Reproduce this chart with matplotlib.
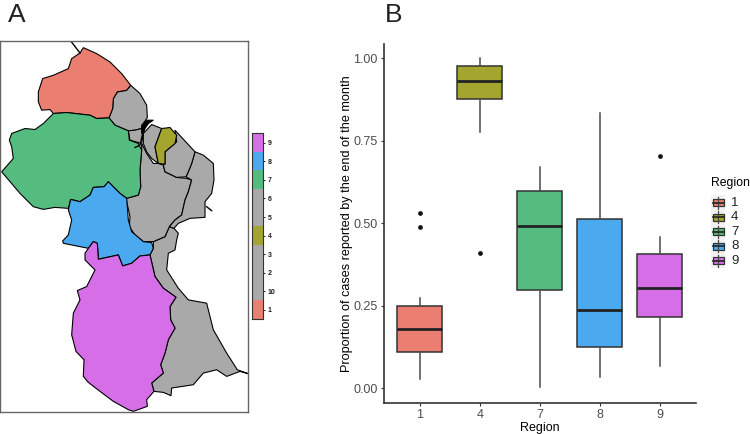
import matplotlib
matplotlib.use('Agg')
import matplotlib.pyplot as plt
from matplotlib.colors import ListedColormap
from matplotlib.patches import Polygon, Rectangle

plt.rcParams['font.family'] = ['Liberation Sans', 'DejaVu Sans']

W, H = 750, 434

# boxplot values
regiones = ['1', '4', '7', '8', '9']
whisker_lo = [0.027, 0.775, 0.005, 0.035, 0.068]
q1 = [0.109, 0.876, 0.298, 0.124, 0.215]
mediana = [0.179, 0.932, 0.493, 0.237, 0.304]
q3 = [0.248, 0.975, 0.598, 0.512, 0.406]
whisker_hi = [0.275, 1.0, 0.671, 0.835, 0.457]
outliers = [[0.49, 0.53], [0.411], [], [], [0.704]]
colores = ['#EA7E70', '#A3A52F', '#55BC80', '#4BA9EF', '#D66EE8']
GRIS = '#A9A9A9'

# colour bar of panel A, bottom to top
barra_labels = ['1', '10', '2', '3', '4', '5', '6', '7', '8', '9']
barra_colores = ['#EA7E70', GRIS, GRIS, GRIS, '#A3A52F', GRIS, GRIS, '#55BC80', '#4BA9EF', '#D66EE8']

# map outlines (units are 1/3 px)
r1 = [(240,68),(250,52),(290,70),(330,95),(365,130),(392,165),(380,180),(352,185),(340,205),(338,235),
      (327,263),(290,265),(270,255),(200,247),(160,250),(150,238),(125,240),(115,215),(115,185),(128,145),
      (160,135),(205,115),(215,85)]
r7 = [(160,250),(200,247),(270,255),(290,265),(327,263),(345,285),(385,302),(388,330),(415,340),(425,360),
      (420,420),(422,470),(415,495),(380,505),(360,490),(335,465),(325,455),(312,470),(280,472),(270,495),
      (240,515),(212,508),(205,535),(165,532),(130,538),(100,530),(60,490),(5,425),(40,385),(35,350),
      (28,330),(35,310),(75,295),(105,298),(130,280)]
r8 = [(205,540),(212,508),(240,515),(270,495),(280,472),(312,470),(325,455),(335,465),(360,490),(380,505),
      (385,570),(395,605),(430,635),(455,638),(460,655),(450,675),(420,678),(395,700),(368,708),(355,675),
      (295,688),(292,640),(280,635),(265,655),(190,640),(188,633),(205,615),(215,570)]
r9 = [(265,655),(280,635),(292,640),(295,688),(355,675),(368,708),(395,700),(420,678),(450,675),(465,740),
      (490,775),(528,802),(510,830),(512,870),(525,895),(505,930),(495,970),(482,1005),(490,1030),(455,1060),
      (462,1085),(440,1110),(442,1130),(400,1145),(385,1140),(340,1115),(300,1085),(265,1058),(250,1040),(252,990),
      (228,965),(215,915),(220,850),(240,810),(232,782),(260,770),(285,720),(255,690),(255,670)]
r4 = [(485,295),(510,292),(530,315),(525,340),(495,365),(495,402),(475,400),(465,350)]
gris_se = [(460,655),(450,675),(465,740),(490,775),(528,802),(510,830),(512,870),(525,895),(505,930),(495,970),
           (482,1005),(490,1030),(455,1060),(462,1085),(490,1088),(513,1098),(515,1075),(580,1065),(610,1030),(650,1020),
           (680,1040),(720,1025),(745,1032),(712,1020),(680,970),(640,900),(620,820),(565,810),(535,775),(500,720),
           (505,670),(525,660),(530,630),(535,610),(522,595),(508,590),(495,620),(460,635)]
gris_centro = [(378,505),(415,495),(422,470),(420,420),(425,360),(425,340),(440,370),(460,400),(475,400),(490,405),
               (495,425),(530,442),(560,445),(575,450),(565,485),(555,510),(545,555),(525,570),(508,590),(495,620),
               (460,635),(430,635),(405,615),(388,590),(390,560)]
gris_este = [(575,450),(558,440),(565,425),(575,400),(585,365),(610,375),(640,400),(642,450),(635,490),(615,515),
             (615,562),(570,565),(535,580),(522,595),(508,590),(525,570),(545,555),(555,510),(565,485)]
gris_costa1 = [(430,340),(430,310),(455,283),(485,295),(465,350),(475,400),(455,385),(440,365)]
gris_costa2 = [(525,300),(585,365),(575,400),(565,425),(558,440),(530,442),(495,425),(490,405),(495,402),(495,365),(530,335)]
gris_no = [(392,165),(420,190),(440,225),(442,262),(430,280),(425,295),(405,300),(385,302),(345,285),(327,263),
           (338,235),(340,205),(352,185),(380,180)]
gris_chico = [(385,302),(405,300),(425,295),(430,310),(425,340),(390,330)]
rio = [(425,310),(425,285),(440,270),(460,270),(445,280),(435,295),(430,310)]
cola = [(213,33),(240,68)]
cola_rio = [(405,352),(420,345),(428,310)]
cola_este = [(620,530),(635,542)]

poligonos = [(gris_se, GRIS), (gris_centro, GRIS), (gris_este, GRIS), (gris_costa1, GRIS), (gris_costa2, GRIS),
             (gris_no, GRIS), (gris_chico, GRIS), (r1, colores[0]), (r7, colores[2]), (r8, colores[3]),
             (r9, colores[4]), (r4, colores[1])]


def caja_px(x0, y0, x1, y1):
    return [x0 / W, 1 - y1 / H, (x1 - x0) / W, (y1 - y0) / H]


fig = plt.figure(figsize=(7.5, 4.34), dpi=100)

# --- A: map
ax_map = fig.add_axes(caja_px(0, 41, 248, 412))
for pts, color in poligonos:
    ax_map.add_patch(Polygon(pts, closed=True, facecolor=color, edgecolor='black', linewidth=0.8))
ax_map.add_patch(Polygon(rio, closed=True, facecolor='black', edgecolor='black', linewidth=0.8))
for linea in [cola, cola_rio, cola_este]:
    ax_map.plot([p[0] for p in linea], [p[1] for p in linea], color='black', lw=1)
ax_map.set_xlim(0, 744)
ax_map.set_ylim(1147, 32)
ax_map.set_xticks([])
ax_map.set_yticks([])
for s in ax_map.spines.values():
    s.set_color('#666666')
    s.set_linewidth(1.0)

# colour bar
ax_bar = fig.add_axes(caja_px(252.3, 133.3, 262.7, 319.3))
ax_bar.imshow([[i] for i in range(len(barra_labels))], cmap=ListedColormap(barra_colores),
              origin='lower', aspect='auto', extent=[0, 1, 0, len(barra_labels)])
ax_bar.set_xticks([])
ax_bar.yaxis.tick_right()
ax_bar.set_yticks([i + 0.5 for i in range(len(barra_labels))])
ax_bar.set_yticklabels(barra_labels, fontsize=5, fontweight='bold', color='#2a1a1a')
ax_bar.tick_params(axis='y', length=1.5, width=0.6, pad=2)
for s in ax_bar.spines.values():
    s.set_linewidth(0.8)
    s.set_color('#333333')

# --- B: boxplot
ax = fig.add_axes(caja_px(383.7, 44, 696, 403))
stats = []
for i, reg in enumerate(regiones):
    stats.append({'label': reg, 'whislo': whisker_lo[i], 'q1': q1[i], 'med': mediana[i],
                  'q3': q3[i], 'whishi': whisker_hi[i], 'fliers': outliers[i]})
bp = ax.bxp(stats, positions=range(len(regiones)), widths=0.75, patch_artist=True, showcaps=False,
            boxprops=dict(edgecolor='#333333', linewidth=1.1),
            whiskerprops=dict(color='#4a4a4a', linewidth=1.1),
            medianprops=dict(color='#222222', linewidth=2),
            flierprops=dict(marker='o', markerfacecolor='#111111', markeredgecolor='#111111', markersize=2.4))
for caja, color in zip(bp['boxes'], colores):
    caja.set_facecolor(color)
ax.set_xlim(-0.6, 4.6)
ax.set_ylim(-0.0445, 1.043)
ax.set_yticks([0, 0.25, 0.5, 0.75, 1.0])
ax.set_yticklabels(['0.00', '0.25', '0.50', '0.75', '1.00'])
ax.tick_params(axis='both', labelsize=9, labelcolor='#4D4D4D', color='#333333', length=2.5, width=0.8, pad=2)
ax.set_xlabel('Region', fontsize=9, labelpad=0.5)
ax.set_ylabel('Proportion of cases reported by the end of the month', fontsize=9.1, labelpad=0)
ax.spines['top'].set_visible(False)
ax.spines['right'].set_visible(False)
ax.spines['left'].set_linewidth(1.2)
ax.spines['bottom'].set_linewidth(1.2)
ax.spines['left'].set_color('#333333')
ax.spines['bottom'].set_color('#333333')

# --- legend and panel letters, pixel coordinates
over = fig.add_axes([0, 0, 1, 1])
over.set_xlim(0, W)
over.set_ylim(H, 0)
over.axis('off')
over.patch.set_alpha(0)
over.text(711, 183, 'Region', fontsize=8.8, va='center', ha='left')
for i, reg in enumerate(regiones):
    yc = 202.7 + i * 14.5
    over.add_patch(Rectangle((711, yc - 7.25), 14, 14.5, facecolor='#F2F2F2', edgecolor='none'))
    over.plot([718, 718], [yc - 6, yc + 6], color='#4a4a4a', lw=0.9)
    over.add_patch(Rectangle((712.5, yc - 3.5), 11, 7, facecolor=colores[i], edgecolor='#333333', lw=0.9))
    over.plot([712.5, 723.5], [yc, yc], color='#222222', lw=1.2)
    over.text(731, yc, reg, fontsize=9.5, va='center', ha='left', color='#222222')
over.text(8, 15, 'A', fontsize=19, va='center', ha='left', color='#222222')
over.text(385, 15, 'B', fontsize=19, va='center', ha='left', color='#222222')

fig.savefig('out.png', dpi=100)
